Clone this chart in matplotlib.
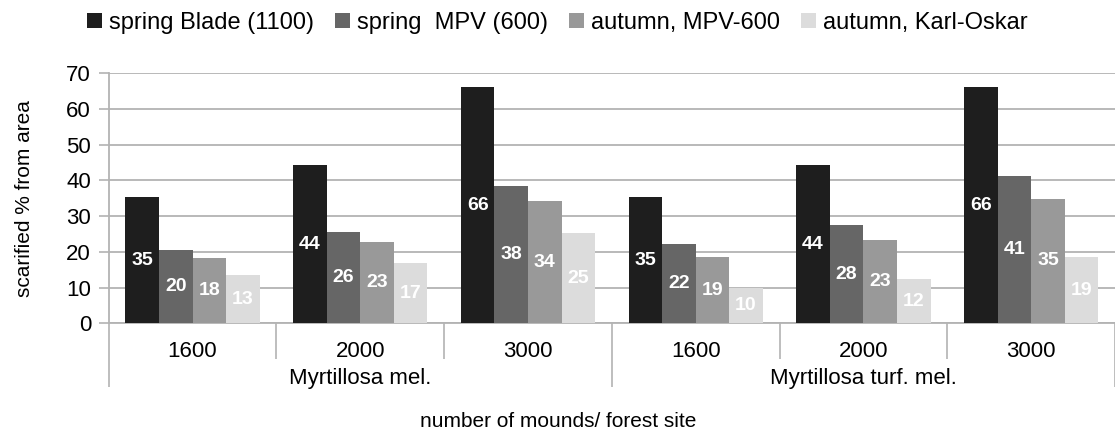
import numpy as np
import matplotlib.pyplot as plt

plt.rcParams['font.family'] = ['Liberation Sans', 'DejaVu Sans']

series = ["spring Blade (1100)", "spring  MPV (600)", "autumn, MPV-600", "autumn, Karl-Oskar"]
colors = ["#1e1e1e", "#666666", "#999999", "#dcdcdc"]
mounds = ["1600", "2000", "3000", "1600", "2000", "3000"]
sites = ["Myrtillosa mel.", "Myrtillosa turf. mel."]

blade = [35.3, 44.2, 66.1, 35.3, 44.2, 66.1]
mpv_spring = [20.4, 25.6, 38.4, 22.3, 27.6, 41.3]
mpv_autumn = [18.3, 22.8, 34.3, 18.6, 23.4, 34.9]
karl_oskar = [13.4, 16.9, 25.3, 9.9, 12.4, 18.6]
values = [blade, mpv_spring, mpv_autumn, karl_oskar]

grid_col = "#b3b3b3"

fig = plt.figure(figsize=(11.15, 4.37), dpi=100)
W, H = 1115, 437
left, right, top, bottom = 108.7, 1115, 73.3, 323.3
ax = fig.add_axes([left / W, (H - bottom) / H, (right - left) / W, (bottom - top) / H])

x = np.arange(len(mounds))
bw = 0.2
for i, (vals, col, name) in enumerate(zip(values, colors, series)):
    pos = x - 0.3 + i * bw
    bars = ax.bar(pos, vals, bw, color=col, label=name, zorder=3)
    ax.bar_label(bars, labels=["%.0f" % v for v in vals], label_type="center",
                 color="white", fontsize=14, fontweight="bold", zorder=4)

ax.set_ylim(0, 70)
ax.set_yticks(range(0, 71, 10))
ax.set_xlim(-0.5, -0.5 + (right - left) / 168.8)
ax.yaxis.grid(True, color=grid_col, linewidth=1.3, zorder=0)
ax.set_axisbelow(True)

for s in ["top", "right"]:
    ax.spines[s].set_visible(False)
for s in ["left", "bottom"]:
    ax.spines[s].set_color(grid_col)
    ax.spines[s].set_linewidth(1.3)

ax.tick_params(axis="y", length=7.2, width=1.2, color=grid_col, labelsize=16, pad=5.5)

# boundary ticks below the axis
ax.set_xticks([-0.5, 2.5, 5.5])
ax.set_xticks([0.5, 1.5, 3.5, 4.5], minor=True)
ax.tick_params(axis="x", which="major", length=46, width=1.2, color=grid_col, labelbottom=False)
ax.tick_params(axis="x", which="minor", length=26, width=1.2, color=grid_col, labelbottom=False)

sec1 = ax.secondary_xaxis("bottom")
sec1.set_xticks(x, mounds)
sec1.tick_params(length=0, labelsize=16, pad=12.5)
sec1.spines["bottom"].set_visible(False)

sec2 = ax.secondary_xaxis("bottom")
sec2.set_xticks([1, 4], sites)
sec2.tick_params(length=0, labelsize=16, pad=32)
sec2.spines["bottom"].set_visible(False)

ax.set_xlabel("number of mounds/ forest site", fontsize=15)
ax.xaxis.set_label_coords(0.447, -0.355)
ax.set_ylabel("scarified % from area", fontsize=15)
ax.yaxis.set_label_coords(-0.074, 0.5)

fig.legend(loc="upper center", bbox_to_anchor=(0.5, 1.0), ncol=4, frameon=False,
           fontsize=17, handlelength=0.62, handleheight=0.62, handletextpad=0.3,
           columnspacing=0.9, borderaxespad=0.1)

fig.savefig("out.png", dpi=100)
